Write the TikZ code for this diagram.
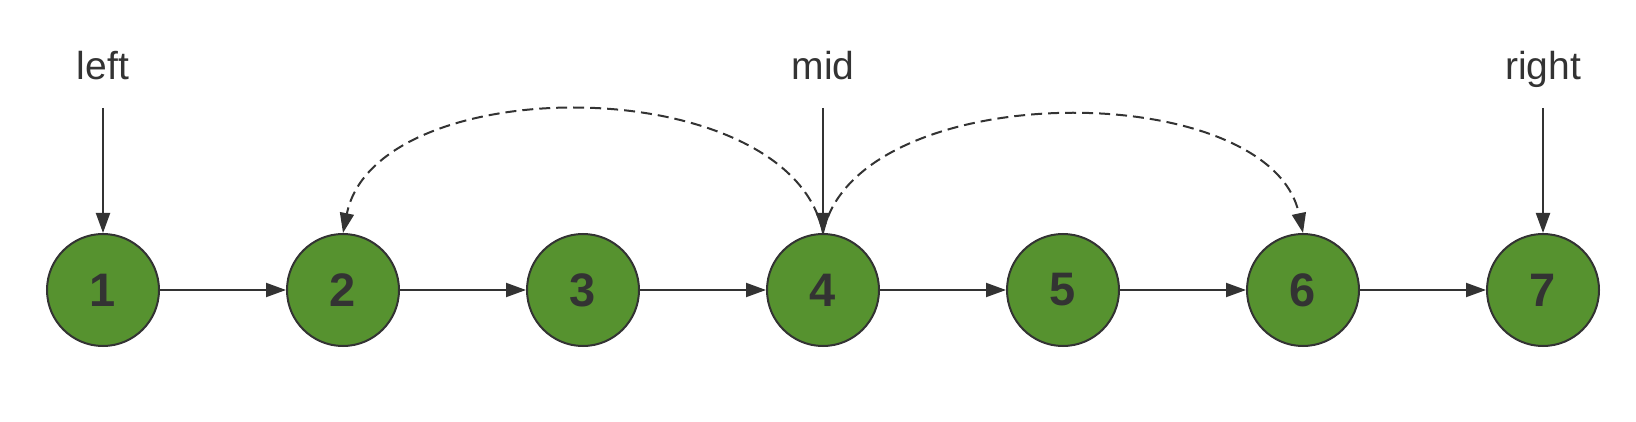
\documentclass[tikz,border=0pt]{standalone}
\usepackage{fontspec}
\setmainfont{Liberation Sans}
\usetikzlibrary{arrows.meta}
\definecolor{nodegreen}{HTML}{56922F}
\definecolor{ink}{HTML}{333333}
\begin{document}
\begin{tikzpicture}[x=1pt,y=-1pt,
  listnode/.style={circle,draw=ink,line width=2pt,fill=nodegreen,minimum size=112pt,inner sep=0pt,
    text=ink,font=\fontsize{47}{49}\selectfont\bfseries},
  ptrlabel/.style={text=ink,font=\fontsize{39}{41}\selectfont,anchor=base,inner sep=0pt},
  link/.style={draw=ink,line width=2pt,-{Triangle[length=20pt,width=14pt]}},
  jump/.style={draw=ink,line width=2pt,dash pattern=on 11pt off 6pt,-{Triangle[length=20pt,width=14pt]}}]
\useasboundingbox (0,0) rectangle (1636,422);
\foreach \i in {1,...,7} {
  \node[listnode] (n\i) at ({103+240*(\i-1)},290) {\i};
}
\foreach \i/\j in {1/2,2/3,3/4,4/5,5/6,6/7} {
  \draw[link] (n\i) -- (n\j);
}
\node[ptrlabel] (lleft) at (103,80) {left};
\node[ptrlabel] (lmid) at (823,80) {mid};
\node[ptrlabel] (lright) at (1543,80) {right};
\coordinate (sleft) at (103,108);
\coordinate (smid) at (823,108);
\coordinate (sright) at (1543,108);
\draw[link] (sleft) -- (n1.north);
\draw[link] (smid) -- (n4.north);
\draw[link] (sright) -- (n7.north);
\draw[jump] (n4.north) .. controls (790,69) and (376,69) .. (n2.north);
\draw[jump] (n4.north) .. controls (856,76) and (1270,76) .. (n6.north);
\end{tikzpicture}
\end{document}
